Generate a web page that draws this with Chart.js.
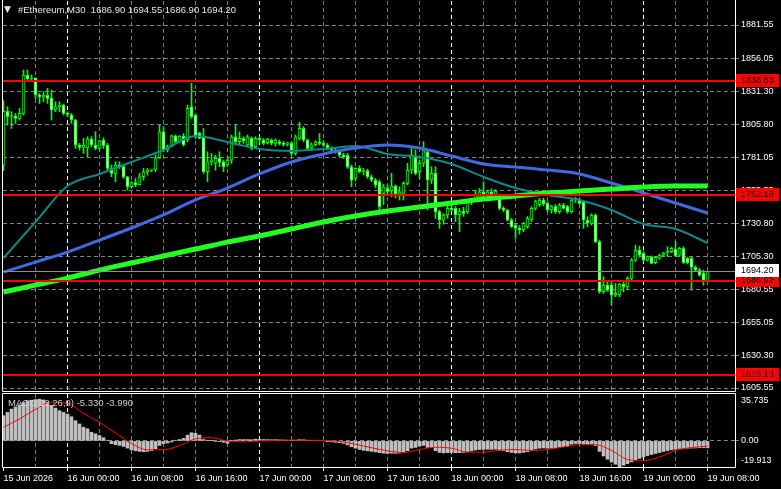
<!DOCTYPE html>
<html>
<head>
<meta charset="utf-8">
<script src="https://cdn.jsdelivr.net/npm/chart.js@4.4.1/dist/chart.umd.min.js"></script>
<style>
  html, body { margin: 0; padding: 0; background: #000; }
  #wrap { position: relative; width: 781px; height: 489px; background: #000; overflow: hidden; }
  #main { position: absolute; left: 0; top: 0; }
  #macd { position: absolute; left: 0; top: 392px; }
</style>
</head>
<body>
<div id="wrap">
  <canvas id="main" width="781" height="392"></canvas>
  <canvas id="macd" width="781" height="97"></canvas>
</div>
<script>
// #Ethereum M30, 15 Jun 16:00 .. 19 Jun 08:00 (one value per bar)
const openP = [
  1775.0,1816.0,1811.8,1812.5,1810.5,1814.3,1843.5,1840.5,1841.2,1828.3,
  1827.0,1828.0,1826.0,1816.9,1819.4,1820.7,1814.3,1813.1,1809.3,1790.3,
  1788.5,1788.0,1794.8,1790.3,1787.7,1794.1,1790.3,1772.5,1768.7,1775.1,
  1774.0,1766.2,1758.6,1761.8,1760.0,1766.2,1770.0,1771.2,1771.8,1780.6,
  1800.4,1786.5,1789.0,1797.3,1792.8,1797.0,1794.1,1819.4,1813.1,1799.1,
  1796.6,1770.0,1777.6,1776.3,1780.1,1777.6,1775.1,1778.8,1796.6,1792.8,
  1795.3,1790.3,1795.3,1789.0,1795.3,1794.1,1792.0,1794.1,1791.5,1792.8,
  1791.5,1790.8,1791.5,1783.9,1795.3,1802.9,1794.1,1787.7,1790.5,1792.8,
  1791.5,1790.3,1787.7,1786.5,1785.2,1782.6,1782.6,1773.8,1764.9,1772.5,
  1770.0,1770.7,1766.2,1763.7,1762.4,1753.5,1757.3,1755.6,1759.1,1753.0,
  1753.5,1761.1,1771.3,1781.4,1770.0,1776.4,1785.2,1763.7,1768.7,1739.6,
  1733.3,1737.1,1742.1,1742.1,1737.1,1740.0,1739.6,1747.2,1749.7,1749.7,
  1754.8,1752.0,1754.8,1752.3,1752.0,1742.1,1740.9,1733.3,1729.5,1726.9,
  1725.7,1728.2,1733.3,1742.1,1745.0,1748.5,1745.9,1740.9,1743.4,1739.6,
  1744.7,1743.5,1739.6,1748.5,1748.5,1747.2,1733.3,1730.7,1737.1,1716.8,
  1678.8,1683.8,1683.8,1676.2,1676.2,1684.5,1682.5,1688.9,1702.8,1710.4,
  1707.9,1702.8,1705.4,1700.8,1704.1,1706.6,1708.4,1709.2,1711.0,1706.6,
  1711.7,1704.1,1704.1,1697.3,1695.2,1692.7,1686.90
];
const highP = [
  1824.0,1819.4,1815.6,1814.3,1818.1,1847.3,1847.3,1843.5,1841.5,1829.5,
  1830.8,1833.4,1832.1,1823.2,1823.2,1821.5,1815.6,1814.3,1809.8,1791.5,
  1795.3,1796.6,1796.6,1800.4,1794.0,1795.8,1791.5,1775.1,1777.6,1777.6,
  1775.1,1766.5,1762.4,1764.9,1768.7,1772.5,1772.5,1772.0,1782.6,1805.5,
  1804.2,1790.3,1797.9,1797.9,1797.5,1799.0,1820.7,1837.2,1813.6,1800.0,
  1802.9,1785.2,1783.9,1782.6,1785.2,1778.8,1781.4,1797.9,1805.5,1800.4,
  1796.6,1797.9,1796.6,1796.6,1796.6,1795.3,1795.5,1795.0,1795.0,1794.0,
  1793.0,1792.5,1792.8,1797.9,1807.5,1804.2,1795.0,1792.0,1793.5,1799.1,
  1793.5,1791.5,1789.0,1788.0,1786.5,1784.0,1783.9,1775.1,1773.0,1774.5,
  1772.5,1772.0,1767.5,1764.9,1763.7,1760.5,1760.0,1768.7,1760.0,1758.6,
  1762.4,1776.4,1787.8,1786.5,1778.9,1792.8,1786.5,1773.8,1773.8,1740.9,
  1738.0,1744.7,1744.0,1743.4,1742.1,1743.0,1748.5,1750.0,1756.1,1757.3,
  1762.4,1756.0,1757.0,1756.5,1753.0,1743.4,1741.5,1734.5,1730.7,1729.0,
  1731.5,1736.0,1743.4,1748.5,1749.7,1750.0,1747.0,1744.5,1745.0,1745.9,
  1746.0,1744.5,1749.5,1750.5,1749.5,1747.5,1735.8,1738.0,1738.0,1718.1,
  1690.2,1686.0,1686.4,1685.1,1685.1,1685.8,1690.2,1704.0,1714.2,1713.5,
  1709.2,1705.9,1706.0,1705.4,1707.5,1708.8,1713.0,1712.5,1716.8,1712.5,
  1713.0,1705.0,1705.4,1698.5,1696.5,1695.2,1694.55
];
const lowP = [
  1771.0,1805.5,1802.9,1806.7,1809.3,1813.1,1839.7,1838.4,1825.7,1821.9,
  1823.2,1821.9,1809.3,1815.6,1815.6,1813.1,1812.0,1806.7,1787.7,1786.5,
  1783.9,1781.4,1789.0,1786.5,1787.0,1787.7,1771.2,1766.2,1762.4,1772.5,
  1764.9,1756.0,1757.3,1758.6,1759.8,1763.6,1767.4,1770.0,1770.0,1780.1,
  1785.2,1785.0,1789.0,1791.5,1792.0,1789.5,1792.8,1810.5,1795.3,1795.0,
  1768.7,1762.4,1775.1,1771.2,1773.8,1770.0,1773.8,1776.3,1790.3,1790.3,
  1791.5,1789.0,1786.5,1787.7,1791.5,1790.3,1791.0,1790.3,1789.5,1790.3,
  1789.5,1789.5,1782.6,1782.6,1794.1,1792.8,1787.0,1786.0,1789.5,1790.3,
  1789.0,1786.5,1785.2,1784.0,1781.4,1780.1,1772.5,1758.6,1763.0,1769.0,
  1767.5,1765.0,1762.4,1758.0,1740.9,1745.0,1752.0,1751.0,1750.0,1748.5,
  1748.5,1759.9,1768.7,1767.5,1764.9,1773.8,1740.9,1761.1,1734.5,1726.9,
  1730.0,1734.5,1739.6,1732.0,1724.4,1736.0,1738.3,1745.0,1748.5,1748.5,
  1750.5,1751.0,1751.5,1751.5,1741.0,1739.6,1732.5,1727.5,1719.3,1722.5,
  1724.4,1727.0,1732.0,1741.0,1743.5,1744.0,1739.6,1738.5,1738.3,1738.3,
  1741.5,1738.3,1738.5,1746.5,1745.0,1726.9,1728.2,1729.5,1716.0,1677.5,
  1677.5,1679.0,1668.6,1675.0,1675.0,1678.8,1681.0,1687.6,1701.6,1705.0,
  1701.6,1702.0,1700.0,1700.0,1703.5,1705.5,1705.4,1708.5,1705.4,1705.5,
  1700.3,1700.0,1680.0,1694.5,1690.5,1683.8,1686.90
];
const closeP = [
  1816.0,1811.8,1812.5,1810.5,1814.3,1843.5,1840.5,1841.2,1828.3,1827.0,
  1828.0,1825.7,1816.9,1819.4,1820.7,1814.3,1813.5,1809.3,1790.3,1788.5,
  1790.3,1794.8,1790.3,1787.7,1793.5,1790.0,1772.5,1768.7,1775.1,1774.0,
  1766.2,1758.6,1761.8,1760.0,1766.2,1770.0,1771.2,1771.8,1780.6,1800.4,
  1786.5,1789.0,1797.3,1792.8,1797.0,1790.3,1818.1,1811.8,1796.6,1795.3,
  1770.0,1777.6,1778.8,1780.1,1777.0,1773.8,1778.8,1796.6,1792.8,1795.3,
  1793.5,1796.6,1787.7,1795.3,1794.1,1791.5,1794.8,1791.5,1794.1,1791.5,
  1790.8,1792.0,1783.9,1796.6,1802.9,1794.1,1787.7,1790.5,1792.8,1791.5,
  1790.3,1787.7,1786.5,1785.2,1782.6,1781.0,1773.8,1763.6,1772.5,1770.0,
  1770.7,1766.2,1763.7,1759.9,1743.4,1758.6,1754.8,1759.1,1753.0,1754.8,
  1761.1,1771.3,1782.7,1768.7,1776.4,1786.5,1763.7,1768.7,1739.6,1733.3,
  1737.1,1742.1,1740.9,1737.1,1740.0,1738.3,1747.2,1749.7,1752.3,1754.8,
  1752.0,1754.8,1752.3,1755.3,1742.1,1740.9,1733.3,1728.2,1726.9,1725.7,
  1730.7,1734.5,1742.1,1747.2,1748.5,1745.5,1740.9,1743.4,1739.6,1744.7,
  1742.1,1739.6,1748.5,1749.7,1745.9,1733.3,1731.0,1737.1,1716.8,1678.8,
  1683.8,1680.0,1676.2,1677.5,1684.5,1682.5,1688.9,1702.8,1710.4,1706.6,
  1702.8,1705.4,1700.3,1704.9,1706.6,1708.4,1709.2,1711.7,1705.9,1711.7,
  1700.8,1700.8,1697.3,1695.2,1691.4,1687.6,1694.20
];

// moving averages, read every 8 bars
const maIdx  = [0,8,16,24,32,40,48,56,64,72,80,88,96,104,112,120,128,136,144,152,160,168,176];
const maFast = [1704.4,1731.8,1759.1,1768.3,1777.4,1786.5,1797.1,1792.6,1787.3,1785.8,1787.3,1789.5,
                1783.5,1781.2,1775.9,1766.0,1757.6,1752.3,1748.5,1740.9,1730.2,1726.4,1715.8];
const maMid  = [1693.7,1701.3,1708.9,1718.0,1727.2,1737.1,1748.5,1757.6,1768.3,1777.4,1783.5,1788.0,
                1790.3,1788.0,1781.9,1775.9,1773.6,1771.3,1768.3,1761.4,1753.8,1746.2,1738.6];
const maSlow = [1678.5,1683.8,1689.1,1695.2,1700.6,1705.9,1711.2,1716.5,1721.1,1726.4,1731.8,1736.3,
                1740.1,1743.1,1746.2,1749.2,1751.5,1753.8,1755.3,1756.8,1758.3,1759.1,1759.1];

// MACD(12,26,9): histogram per bar, signal read every 4 bars
const macdHist = [
  19.2,21.7,24.2,25.9,27.4,29.2,30.5,31.0,31.5,31.8,
  31.2,29.5,27.0,25.0,23.0,21.7,20.4,18.4,15.4,12.9,
  10.4,9.2,6.6,5.4,4.1,2.4,0.5,-2.1,-2.9,-3.4,
  -4.2,-5.5,-6.8,-7.5,-8.0,-8.2,-8.0,-7.4,-6.0,-3.5,
  -2.1,-1.6,-0.8,0.5,1.0,1.9,4.4,6.2,5.7,4.4,
  1.0,0.5,0.2,-0.3,-0.6,-1.1,-1.8,0.3,0.6,1.0,
  1.0,1.0,0.9,1.3,1.2,1.0,1.0,0.9,1.0,0.8,
  0.7,0.5,0.2,0.5,1.0,0.9,0.5,0.2,0.2,0.2,
  0.0,-0.6,-0.7,-1.1,-1.3,-1.9,-3.0,-4.5,-5.6,-6.5,
  -7.2,-7.6,-8.0,-8.4,-9.0,-9.4,-9.6,-9.4,-9.5,-9.3,
  -8.8,-7.5,-5.5,-5.0,-4.0,-3.4,-5.0,-5.2,-7.5,-8.8,
  -9.2,-9.0,-8.8,-9.0,-9.0,-8.8,-8.2,-7.6,-7.0,-6.6,
  -6.5,-6.4,-6.5,-6.3,-7.0,-7.5,-8.2,-8.8,-9.2,-9.2,
  -8.8,-8.2,-7.2,-6.2,-5.6,-5.4,-5.6,-5.5,-5.3,-4.8,
  -4.4,-4.2,-2.5,-2.0,-2.0,-2.4,-2.6,-2.2,-3.5,-8.0,
  -11.5,-14.0,-16.2,-17.8,-19.9,-18.6,-17.4,-16.0,-14.6,-13.4,
  -12.3,-11.2,-10.4,-9.6,-8.9,-8.1,-7.4,-6.8,-6.4,-5.8,
  -5.9,-5.6,-5.5,-5.4,-5.2,-5.1,-5.33
];
const sigIdx = [0,4,8,12,16,20,24,28,32,36,40,44,48,52,56,60,64,68,72,76,80,84,88,
                92,96,100,104,108,112,116,120,124,128,132,136,140,144,148,152,156,160,164,168,172,176];
const macdSignal = [10.4,16.7,24.0,29.4,28.6,21.0,14.1,6.0,-2.1,-6.8,-6.8,-3.5,1.5,2.4,-0.2,-0.8,0.0,0.5,0.6,0.5,0.3,-0.3,-2.6,
                    -5.2,-7.6,-8.9,-6.6,-4.9,-5.6,-8.6,-8.6,-7.1,-6.6,-7.3,-6.6,-4.6,-2.9,-2.9,-7.3,-14.2,-15.2,-12.2,-7.3,-5.1,-3.99];

const levels = [1838.63, 1752.18, 1686.92, 1615.13];
const lastPrice = 1694.20;
const priceTicks = [1881.55,1856.05,1831.30,1805.80,1781.05,1755.55,1730.80,1705.30,1680.55,1655.05,1630.30,1605.55];
const macdTicks = [35.735, 0, -19.913];
const gridIdx = [8,16,24,32,40,48,56,64,72,80,88,96,104,112,120,128,136,144,152,160,168,176];
const timeIdx = [0,16,32,48,64,80,96,112,128,144,160,176];
const timeLabels = ['15 Jun 2026','16 Jun 00:00','16 Jun 08:00','16 Jun 16:00','17 Jun 00:00','17 Jun 08:00',
                    '17 Jun 16:00','18 Jun 00:00','18 Jun 08:00','18 Jun 16:00','19 Jun 00:00','19 Jun 08:00'];

const xMin = -0.125, xMax = 182.875;
const barIdx = closeP.map((_, i) => i);
const FONT = "'Liberation Sans', Arial, sans-serif";
Chart.defaults.font.family = FONT;
Chart.defaults.font.size = 9;

const GRID = '#78838f';
function vGridColor(c) {
  if (!c.tick) return 'transparent';
  const v = c.tick.value;
  if (v === 0) return 'transparent';
  return v % 48 === 16 ? '#ffffff' : GRID;
}
function timeLabel(v) {
  const k = timeIdx.indexOf(v);
  return k < 0 ? '' : timeLabels[k];
}
// keep the plot area exactly where MT4 puts it (no label padding)
function fixBox(s, w, h) {
  if (w !== null) s.width = w;
  if (h !== null) s.height = h;
  s.paddingTop = 0; s.paddingBottom = 0; s.paddingLeft = 0; s.paddingRight = 0;
}

// frame, levels, labels and title of the price window
const mainDecor = {
  id: 'mainDecor',
  afterDatasetsDraw(chart) {
    const { ctx, chartArea: a, scales: { y } } = chart;
    ctx.save();
    ctx.beginPath();
    ctx.rect(a.left, a.top, a.right - a.left, a.bottom - a.top);
    ctx.clip();
    const py = Math.round(y.getPixelForValue(lastPrice)) + 0.5;
    ctx.strokeStyle = '#909090';
    ctx.lineWidth = 1;
    ctx.beginPath(); ctx.moveTo(a.left, py); ctx.lineTo(a.right, py); ctx.stroke();
    ctx.strokeStyle = '#ff0000';
    ctx.lineWidth = 2;
    levels.forEach(v => {
      const ly = Math.round(y.getPixelForValue(v));
      ctx.beginPath(); ctx.moveTo(a.left, ly); ctx.lineTo(a.right, ly); ctx.stroke();
    });
    ctx.restore();
  },
  afterDraw(chart) {
    const { ctx, chartArea: a, scales: { y } } = chart;
    ctx.save();
    ctx.strokeStyle = '#ffffff';
    ctx.lineWidth = 1;
    ctx.beginPath();
    ctx.moveTo(2.5, 0); ctx.lineTo(2.5, 391.5);
    ctx.lineTo(a.right + 0.5, 391.5); ctx.lineTo(a.right + 0.5, 0);
    ctx.stroke();

    ctx.font = '9px ' + FONT;
    ctx.textBaseline = 'middle';
    ctx.textAlign = 'left';
    const box = (v, bg, fg) => {
      const ly = Math.round(y.getPixelForValue(v));
      ctx.fillStyle = bg;
      ctx.fillRect(a.right + 1, ly - 7, 43, 13);
      ctx.fillStyle = fg;
      ctx.fillText(v.toFixed(2), a.right + 6, ly);
    };
    levels.forEach(v => box(v, '#ff0000', '#000000'));
    box(lastPrice, '#ffffff', '#000000');

    const last = closeP.length - 1;
    ctx.fillStyle = '#e8e8e8';
    ctx.font = '9px DejaVu Sans';
    ctx.fillText('\u25BC', 4, 10);
    ctx.font = '9.5px ' + FONT;
    ctx.fillText('#Ethereum,M30  ' + [openP[last], highP[last], lowP[last], closeP[last]].map(v => v.toFixed(2)).join(' '), 18, 10);
    ctx.restore();
  }
};

new Chart(document.getElementById('main'), {
  type: 'bar',
  data: {
    datasets: [
      { type: 'line', data: maIdx.map((v, k) => ({ x: v, y: maSlow[k] })), borderColor: '#22ff22', borderWidth: 5,
        pointRadius: 0, cubicInterpolationMode: 'monotone', order: 1 },
      { type: 'line', data: maIdx.map((v, k) => ({ x: v, y: maMid[k] })), borderColor: '#4169e1', borderWidth: 3,
        pointRadius: 0, cubicInterpolationMode: 'monotone', order: 2 },
      { type: 'line', data: maIdx.map((v, k) => ({ x: v, y: maFast[k] })), borderColor: '#0a8a8a', borderWidth: 2,
        pointRadius: 0, cubicInterpolationMode: 'monotone', order: 3 },
      { type: 'bar', data: barIdx.map(i => ({ x: i, y: [Math.min(openP[i], closeP[i]), Math.max(openP[i], closeP[i])] })),
        backgroundColor: barIdx.map(i => closeP[i] >= openP[i] ? '#000000' : '#ffffff'),
        borderColor: '#00ff00', borderWidth: 1, borderSkipped: false, barThickness: 3, minBarLength: 1,
        grouped: false, order: 4 },
      { type: 'bar', data: barIdx.map(i => ({ x: i, y: [lowP[i], highP[i]] })),
        backgroundColor: '#00ff00', barThickness: 1, grouped: false, order: 5 }
    ]
  },
  options: {
    responsive: false, maintainAspectRatio: false, animation: false, events: [],
    layout: { padding: { left: 3, top: 1, right: 0, bottom: 1 } },
    plugins: { legend: { display: false }, tooltip: { enabled: false } },
    scales: {
      x: {
        type: 'linear', min: xMin, max: xMax, offset: false,
        afterBuildTicks: s => { s.ticks = gridIdx.map(v => ({ value: v })); },
        afterFit: s => fixBox(s, null, 0),
        ticks: { display: false },
        grid: { offset: false, color: vGridColor, drawTicks: false },
        border: { display: false, dash: [4, 3] }
      },
      y: {
        type: 'linear', position: 'right', min: 1603.27, max: 1899.80,
        afterBuildTicks: s => { s.ticks = priceTicks.map(v => ({ value: v })); },
        afterFit: s => fixBox(s, 46, null),
        ticks: { color: '#ffffff', padding: 2, autoSkip: false, callback: v => v.toFixed(2) },
        grid: { color: GRID, tickLength: 4, tickColor: GRID },
        border: { display: false, dash: [4, 3] }
      }
    }
  },
  plugins: [mainDecor]
});

// MACD window
const macdDecor = {
  id: 'macdDecor',
  afterDraw(chart) {
    const { ctx, chartArea: a, scales: { y } } = chart;
    ctx.save();
    ctx.strokeStyle = '#ffffff';
    ctx.lineWidth = 1;
    ctx.beginPath();
    ctx.moveTo(2.5, 1.5); ctx.lineTo(a.right + 0.5, 1.5);
    ctx.lineTo(a.right + 0.5, a.bottom + 0.5); ctx.lineTo(2.5, a.bottom + 0.5);
    ctx.closePath();
    ctx.stroke();

    ctx.font = '9px ' + FONT;
    ctx.textBaseline = 'middle';
    ctx.textAlign = 'left';
    ctx.fillStyle = '#ffffff';
    const offs = [7, 0, -6];
    macdTicks.forEach((v, k) => {
      ctx.fillText(v === 0 ? '0.00' : v.toFixed(3), a.right + 6, y.getPixelForValue(v) + offs[k]);
    });
    const last = macdHist.length - 1;
    ctx.fillStyle = '#d0d0d0';
    ctx.font = '9.5px ' + FONT;
    ctx.fillText('MACD(12,26,9) ' + macdHist[last].toFixed(3) + ' ' + macdSignal[macdSignal.length - 1].toFixed(3), 8, 11);
    ctx.restore();
  }
};

new Chart(document.getElementById('macd'), {
  type: 'bar',
  data: {
    datasets: [
      { type: 'line', data: sigIdx.map((v, k) => ({ x: v, y: macdSignal[k] })), borderColor: '#ff0000', borderWidth: 1,
        pointRadius: 0, cubicInterpolationMode: 'monotone', order: 1 },
      { type: 'bar', data: barIdx.map(i => ({ x: i, y: macdHist[i] })), backgroundColor: '#c0c0c0',
        barThickness: 3, grouped: false, order: 2 }
    ]
  },
  options: {
    responsive: false, maintainAspectRatio: false, animation: false, events: [],
    layout: { padding: { left: 3, top: 2, right: 0, bottom: 0 } },
    plugins: { legend: { display: false }, tooltip: { enabled: false } },
    scales: {
      x: {
        type: 'linear', min: xMin, max: xMax, offset: false,
        afterBuildTicks: s => { s.ticks = [0].concat(gridIdx).map(v => ({ value: v })); },
        afterFit: s => fixBox(s, null, 22),
        ticks: { color: '#ffffff', autoSkip: false, maxRotation: 0, align: 'start', padding: 2, callback: v => timeLabel(v) },
        grid: { offset: false, color: vGridColor, tickLength: 4,
                tickColor: c => (c.tick && timeLabel(c.tick.value)) ? '#ffffff' : 'transparent' },
        border: { display: false, dash: [4, 3] }
      },
      y: {
        type: 'linear', position: 'right', min: -19.913, max: 35.735,
        afterBuildTicks: s => { s.ticks = [{ value: 0 }]; },
        afterFit: s => fixBox(s, 46, null),
        ticks: { display: false },
        grid: { color: GRID, tickLength: 4, tickColor: GRID },
        border: { display: false, dash: [4, 3] }
      }
    }
  },
  plugins: [macdDecor]
});
</script>
</body>
</html>
